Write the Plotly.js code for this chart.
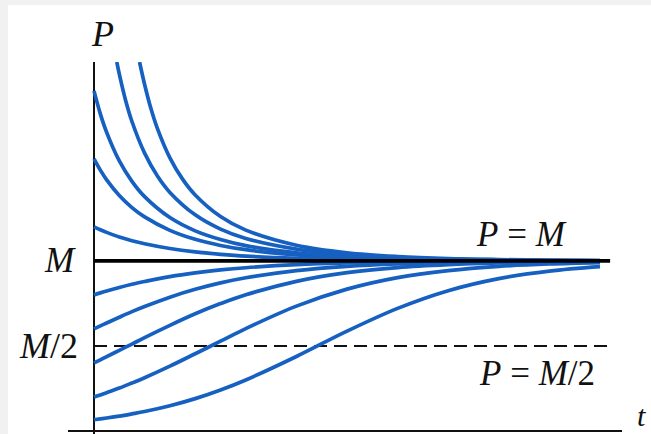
<!DOCTYPE html>
<html>
<head>
<meta charset="utf-8">
<script src="https://cdn.plot.ly/plotly-3.0.1.min.js"></script>
<style>
  html, body { margin: 0; padding: 0; background: #f1f1f1; }
  #chart { position: absolute; left: 8px; top: 5px; width: 643px; height: 429px; background: #fff; }
</style>
</head>
<body>
<div id="chart"></div>
<script>
// Time samples shared by the curves that start on the P axis
const tSamples = [0, 0.125, 0.25, 0.5, 0.75, 1, 1.5, 2, 2.5, 3, 4, 5, 6, 7, 8, 9, 10];

// Solutions starting below the carrying capacity M (P in units of M)
const pFrom080 = [0.800, 0.812, 0.823, 0.844, 0.863, 0.879, 0.908, 0.930, 0.947, 0.960, 0.978, 0.988, 0.993, 0.996, 0.998, 0.999, 0.999];
const pFrom060 = [0.600, 0.618, 0.635, 0.669, 0.702, 0.732, 0.787, 0.833, 0.871, 0.901, 0.943, 0.968, 0.982, 0.990, 0.995, 0.997, 0.998];
const pFrom040 = [0.400, 0.418, 0.437, 0.474, 0.511, 0.549, 0.621, 0.689, 0.749, 0.801, 0.880, 0.931, 0.961, 0.978, 0.988, 0.993, 0.996];
const pFrom020 = [0.200, 0.212, 0.225, 0.252, 0.282, 0.313, 0.381, 0.454, 0.528, 0.602, 0.734, 0.834, 0.902, 0.943, 0.968, 0.982, 0.990];
const pFrom007 = [0.066, 0.071, 0.076, 0.087, 0.100, 0.114, 0.148, 0.190, 0.241, 0.300, 0.438, 0.587, 0.721, 0.825, 0.896, 0.940, 0.966];

// Solutions starting above M
const pFrom120 = [1.200, 1.183, 1.168, 1.141, 1.119, 1.101, 1.073, 1.053, 1.039, 1.028, 1.015, 1.008, 1.005, 1.003, 1.001, 1.001, 1.000];
const pFrom160 = [1.600, 1.534, 1.477, 1.385, 1.314, 1.259, 1.180, 1.127, 1.091, 1.066, 1.035, 1.019, 1.010, 1.006, 1.003, 1.002, 1.001];
const pFrom200 = [2.000, 1.865, 1.756, 1.588, 1.468, 1.378, 1.255, 1.177, 1.126, 1.090, 1.048, 1.026, 1.014, 1.008, 1.004, 1.002, 1.001];

// Two steeper solutions that come in from above the top of the P axis
const tHighA = [0.45, 0.5, 0.625, 0.75, 1, 1.25, 1.5, 2, 2.5, 3, 4, 5, 6, 7, 8, 9, 10];
const pHighA = [2.170, 2.099, 1.944, 1.820, 1.634, 1.501, 1.403, 1.271, 1.187, 1.132, 1.069, 1.037, 1.020, 1.011, 1.006, 1.003, 1.002];
const tHighB = [0.9, 1, 1.125, 1.25, 1.5, 1.75, 2, 2.5, 3, 4, 5, 6, 7, 8, 9, 10];
const pHighB = [2.170, 2.038, 1.896, 1.781, 1.606, 1.481, 1.388, 1.261, 1.181, 1.092, 1.048, 1.026, 1.014, 1.008, 1.004, 1.002];

// Equilibrium P = M and the inflection level P = M/2
const tCapacity = [0, 10.2];
const pCapacity = [1, 1];
const tHalf = [0, 10.16];
const pHalf = [0.5, 0.5];

const curveColor = '#1560c0';
const serif = 'Liberation Serif, Times New Roman, serif';

function curve(t, p) {
  return {
    x: t, y: p, type: 'scatter', mode: 'lines',
    line: { color: curveColor, width: 3.7, shape: 'spline', smoothing: 1 },
    hoverinfo: 'skip'
  };
}

const traces = [
  {
    x: tHalf, y: pHalf, type: 'scatter', mode: 'lines',
    line: { color: '#111', width: 2, dash: '13px,7px' }, hoverinfo: 'skip'
  },
  curve(tSamples, pFrom007),
  curve(tSamples, pFrom020),
  curve(tSamples, pFrom040),
  curve(tSamples, pFrom060),
  curve(tSamples, pFrom080),
  curve(tSamples, pFrom120),
  curve(tSamples, pFrom160),
  curve(tSamples, pFrom200),
  curve(tHighA, pHighA),
  curve(tHighB, pHighB),
  {
    x: tCapacity, y: pCapacity, type: 'scatter', mode: 'lines',
    line: { color: '#000', width: 3.8 }, hoverinfo: 'skip'
  }
];

// Labels placed on the axes' data scale
function label(text, x, y, size, xanchor) {
  return {
    text: text, x: x, y: y, xref: 'x', yref: 'y',
    showarrow: false, xanchor: xanchor || 'center', yanchor: 'middle',
    font: { family: serif, size: size, color: '#111' }
  };
}

// Axis names sit outside the plotting area, so they use paper coordinates
function axisName(text, x, y, size, yanchor) {
  return {
    text: text, x: x, y: y, xref: 'paper', yref: 'paper',
    showarrow: false, xanchor: 'center', yanchor: yanchor || 'middle',
    font: { family: serif, size: size, color: '#111' }
  };
}

const layout = {
  width: 643, height: 429,
  margin: { l: 60, r: 29, t: 57, b: 0 },
  paper_bgcolor: '#ffffff', plot_bgcolor: '#ffffff',
  showlegend: false,
  xaxis: {
    range: [-0.514, 10.435], showgrid: false, showticklabels: false, ticks: '',
    zeroline: true, zerolinecolor: '#111', zerolinewidth: 2, showline: false, fixedrange: true
  },
  yaxis: {
    range: [-0.018, 2.17], showgrid: false, showticklabels: false, ticks: '',
    zeroline: true, zerolinecolor: '#111', zerolinewidth: 2.5, showline: false, fixedrange: true
  },
  annotations: [
    axisName('<i>P</i>', 0.062, 1.076, 36),
    axisName('<i>t</i>', 1.036, 0.0, 30, 'bottom'),
    label('<i>M</i>', -0.316, 1.0, 35, 'right'),
    label('<i>M</i>/2', -0.277, 0.497, 36, 'right'),
    label('<i>P</i> = <i>M</i>', 8.44, 1.153, 35),
    label('<i>P</i> = <i>M</i>/2', 8.76, 0.335, 35)
  ]
};

Plotly.newPlot('chart', traces, layout, { staticPlot: true, displayModeBar: false });
</script>
</body>
</html>
